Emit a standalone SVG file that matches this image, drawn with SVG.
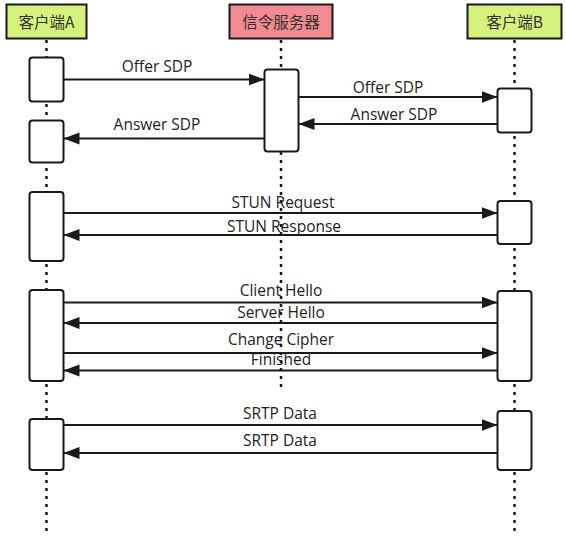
<svg xmlns="http://www.w3.org/2000/svg" width="566" height="536" viewBox="0 0 566 536">
<style>
.hdr{stroke:#1a1a1a;stroke-width:2}
.client{fill:#d6f27c}
.server{fill:#f28a91}
.htxt{font-family:"Noto Sans CJK SC","Noto Sans",sans-serif;font-size:15.5px;fill:#333;text-anchor:middle}
.life{stroke:#1a1a1a;stroke-width:2.5;stroke-dasharray:3 5;fill:none}
.act{fill:#fff;stroke:#1a1a1a;stroke-width:2}
.msg{stroke:#1a1a1a;stroke-width:2;fill:none;marker-end:url(#arr)}
.lbl{font-family:"Open Sans","Noto Sans",sans-serif;font-size:15.5px;fill:#222;text-anchor:middle}
</style>
<defs>
<marker id="arr" markerUnits="userSpaceOnUse" markerWidth="17" markerHeight="13" refX="16" refY="6" orient="auto">
<path d="M0,0 L16,6 L0,12 z" fill="#1a1a1a"/>
</marker>
</defs>
<rect width="566" height="536" fill="#fff"/>
<g id="lifelines">
<line class="life" x1="46.5" y1="40" x2="46.5" y2="536"/>
<line class="life" x1="281" y1="40" x2="281" y2="392"/>
<line class="life" x1="514.5" y1="40" x2="514.5" y2="536"/>
</g>
<g id="clientA">
<rect class="hdr client" x="6.5" y="4.5" width="80" height="34"/>
<text class="htxt" x="46.5" y="28">客户端A</text>
</g>
<g id="server">
<rect class="hdr server" x="229.5" y="4.5" width="103" height="34"/>
<text class="htxt" x="281" y="28">信令服务器</text>
</g>
<g id="clientB">
<rect class="hdr client" x="467.5" y="4.5" width="94" height="34"/>
<text class="htxt" x="514.5" y="28">客户端B</text>
</g>
<g id="activations">
<rect class="act" x="29.5" y="57.5" width="34" height="44" rx="3"/>
<rect class="act" x="29.5" y="120.5" width="34" height="42" rx="3"/>
<rect class="act" x="264.5" y="69.5" width="34" height="82" rx="3"/>
<rect class="act" x="497.5" y="88.5" width="34" height="44" rx="3"/>
<rect class="act" x="29.5" y="192" width="34" height="69" rx="3"/>
<rect class="act" x="497.5" y="201" width="34" height="43" rx="3"/>
<rect class="act" x="29.5" y="290" width="34" height="91" rx="3"/>
<rect class="act" x="497.5" y="291" width="34" height="90" rx="3"/>
<rect class="act" x="29.5" y="419" width="34" height="51" rx="3"/>
<rect class="act" x="497.5" y="411" width="34" height="59" rx="3"/>
</g>
<g id="connectors">
<line class="msg" x1="63.5" y1="79.5" x2="264.5" y2="79.5"/>
<line class="msg" x1="298.5" y1="97" x2="497.5" y2="97"/>
<line class="msg" x1="497.5" y1="124" x2="298.5" y2="124"/>
<line class="msg" x1="264.5" y1="138.5" x2="63.5" y2="138.5"/>
<line class="msg" x1="63.5" y1="213" x2="497.5" y2="213"/>
<line class="msg" x1="497.5" y1="235" x2="63.5" y2="235"/>
<line class="msg" x1="63.5" y1="302.5" x2="497.5" y2="302.5"/>
<line class="msg" x1="497.5" y1="323" x2="63.5" y2="323"/>
<line class="msg" x1="63.5" y1="353" x2="497.5" y2="353"/>
<line class="msg" x1="497.5" y1="370.5" x2="63.5" y2="370.5"/>
<line class="msg" x1="63.5" y1="425" x2="497.5" y2="425"/>
<line class="msg" x1="497.5" y1="453" x2="63.5" y2="453"/>
</g>
<g id="labels">
<text class="lbl" x="157" y="72">Offer SDP</text>
<text class="lbl" x="388" y="93">Offer SDP</text>
<text class="lbl" x="394" y="120">Answer SDP</text>
<text class="lbl" x="157" y="130">Answer SDP</text>
<text class="lbl" x="283" y="208">STUN Request</text>
<text class="lbl" x="284" y="232">STUN Response</text>
<text class="lbl" x="281" y="296">Client Hello</text>
<text class="lbl" x="281" y="318">Server Hello</text>
<text class="lbl" x="281" y="345">Change Cipher</text>
<text class="lbl" x="281" y="365">Finished</text>
<text class="lbl" x="280" y="419">SRTP Data</text>
<text class="lbl" x="280" y="446">SRTP Data</text>
</g>
</svg>
